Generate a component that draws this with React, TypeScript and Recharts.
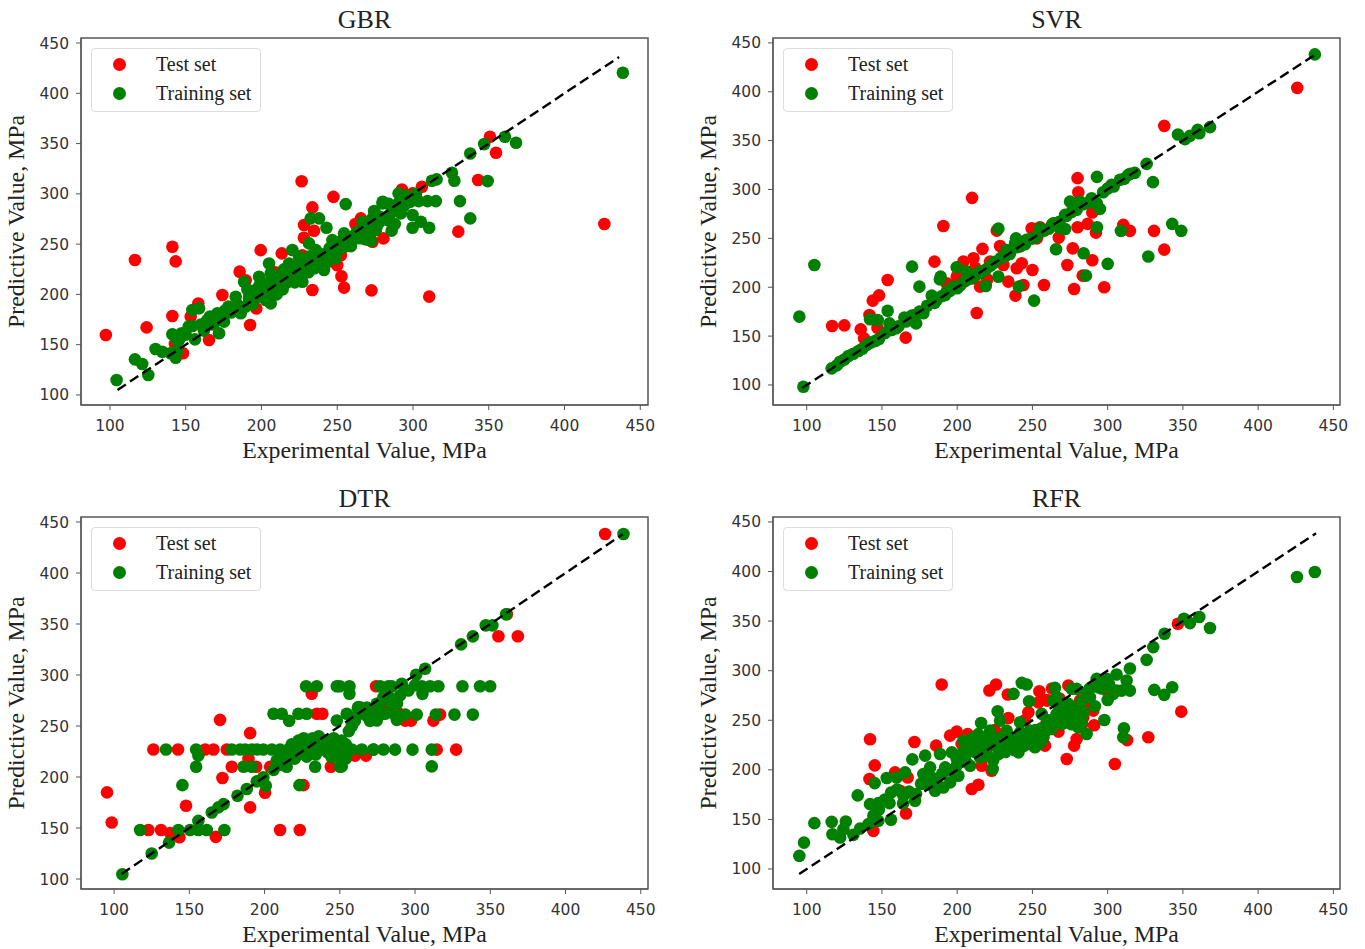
import React from 'react';
import {
  ScatterChart, Scatter, XAxis, YAxis, ReferenceArea
} from 'recharts';

type Pt = [number, number];

const xTicks = [100, 150, 200, 250, 300, 350, 400, 450];
const yTicks = [100, 150, 200, 250, 300, 350, 400, 450];

// GBR
const gbrTest: Pt[] = [
  [97.3, 159.6], [116.5, 234.2], [124.2, 167.2], [141.2, 247.4], [143.4, 232.8], [141.2, 178.5], [142.9, 150.7], [148.2, 141.4],
  [158.3, 191], [153.3, 178], [165.4, 154.7], [174.2, 199.4], [185.6, 222.6], [189.6, 214], [185, 188], [192.5, 169.6],
  [196.6, 186], [199.5, 244], [213.4, 240.8], [227, 239], [233.6, 204.3], [233.6, 286.5], [228.1, 269], [234.7, 263.3],
  [228, 256.4], [247.5, 297], [250, 229], [252.4, 239], [252.8, 218], [254.5, 206.7], [272.6, 204], [265.6, 275.6],
  [262, 270], [280.5, 255.7], [273.3, 252.4], [426.3, 270], [329.9, 262.4], [343, 313.7], [354.8, 340.9], [350.8, 356.8],
  [310.7, 197.8], [305.9, 307], [299.7, 300.5], [292.7, 304.4], [226.5, 312.5], [256, 248], [246, 233], [218, 229], [209, 222]
];
const gbrTrain: Pt[] = [
  [104.4, 114.9], [116.5, 135.4], [121.3, 130.8], [125.3, 119.9], [130.1, 145.7], [134.5, 143], [140, 141.4], [143.4, 137],
  [144.5, 144], [145.6, 154.7], [141.2, 160.3], [147.3, 161.3], [144, 155], [154.4, 168.6], [156.1, 155.3], [154.4, 184.5],
  [158.8, 186.1], [164.3, 174.5], [170.9, 181.2], [167.5, 170], [175.3, 172.9], [172, 161.3], [178.1, 187.8], [183, 197.7],
  [188.5, 212.6], [190.7, 205], [186.3, 181.2], [189.6, 187.8], [191.8, 196], [198.4, 217.6], [197.3, 206], [205, 230.8],
  [202.8, 194.4], [206.1, 191.1], [208.3, 207.6], [213.8, 222.6], [218.2, 230.8], [220.4, 244.1], [224.8, 237.5], [211.6, 214.3],
  [206.1, 220.9], [200.6, 206], [216, 217.6], [220.4, 224.2], [227, 212.6], [231.4, 250.7], [235.8, 244.1], [232.5, 275.6],
  [238, 275.6], [242.9, 266.3], [255.6, 289.8], [241.3, 224.2], [244.6, 237.5], [240.2, 234.2], [246.8, 254], [250.1, 244.1],
  [254.5, 260.7], [260, 255.7], [266.6, 255.7], [272.2, 253.4], [266.7, 272.3], [274.4, 282.2], [279.9, 290.5], [275.5, 267.3],
  [283.2, 274], [268.9, 254.7], [275.5, 264], [285.9, 263.4], [299.7, 266.3], [310.7, 266.3], [305.2, 272.3], [299.7, 279],
  [292, 280.6], [303.7, 292.8], [309.6, 292.8], [315.1, 292.8], [331, 292.8], [337.8, 275.6], [327.3, 313], [325.7, 321],
  [312.5, 313], [315.6, 314.4], [337.8, 340.2], [347, 349.5], [360.7, 356.8], [368, 350.8], [349.3, 312.7], [438.5, 420.4],
  [290.5, 300.5], [280, 292.2], [284, 290], [274.4, 283], [286.5, 283], [278.5, 277], [296, 298], [214, 205], [222, 212],
  [228, 222], [236, 228], [210, 200], [204, 200], [226, 231], [232, 238], [248, 250], [258, 257], [263, 262], [270, 270],
  [199, 210], [203, 208], [205, 212], [207, 200], [209, 215], [211, 204], [213, 208], [215, 225], [217, 212], [219, 222],
  [221, 216], [223, 226], [225, 218], [229, 226], [231, 222], [233, 232], [235, 226], [237, 236], [239, 230], [241, 240],
  [243, 232], [245, 246], [247, 240], [249, 236], [251, 252], [253, 246], [256, 254], [259, 248], [261, 258], [264, 256],
  [268, 265], [271, 258], [273, 275], [277, 270], [281, 276], [285, 280], [288, 270], [291, 292], [294, 288], [298, 292],
  [302, 300], [150, 160], [152, 168], [160, 170], [162, 164], [166, 178], [169, 172], [174, 180], [176, 184], [180, 182],
  [184, 190], [192, 200], [194, 190], [196, 196]
];
// SVR
const svrTest: Pt[] = [
  [116.9, 160.3], [125, 161], [135.9, 156.9], [138.1, 147.7], [141.7, 171.6], [147, 158.6], [143.9, 186.3], [148.1, 191.7],
  [153.8, 207.4], [165.8, 148.4], [184.9, 226.2], [190.8, 262.7], [209.9, 291.4], [213, 173.6], [193, 204], [199.7, 210.8],
  [204.1, 226.2], [210.8, 229.6], [216.8, 239.2], [215.2, 200.6], [221.8, 226.2], [228.5, 242.2], [226.3, 257.9], [230.7, 222.8],
  [239.6, 219.4], [242.9, 224.5], [234, 205.7], [238.7, 191.4], [244, 202.3], [250, 217.7], [257.7, 202.3], [249.5, 260.3],
  [255, 261.3], [252.9, 250], [267.5, 250.8], [276.8, 239.8], [273.2, 222.8], [277.7, 198.2], [280, 311.6], [280.5, 297.2],
  [289.8, 276.4], [286.7, 264.8], [280, 261.4], [292.2, 255.9], [310.4, 263.8], [314.8, 257.7], [330.8, 257.7], [337.6, 238.5],
  [289.8, 227.6], [283.4, 211.9], [297.7, 200], [337.6, 365.1], [426, 404], [206, 214], [212, 220], [220, 208]
];
const svrTrain: Pt[] = [
  [97.8, 98.2], [95.1, 169.9], [105.1, 222.8], [116.6, 117], [122.2, 123.8], [127.7, 129.6], [134.4, 134.8], [142.6, 143.3],
  [145.4, 145], [142.1, 167.2], [147.2, 166.5], [153.8, 176], [155, 163], [156.5, 156.2], [159.4, 158], [164.9, 168.9],
  [172, 171.6], [172.7, 163], [177.5, 173.3], [174.9, 200.6], [170, 221.1], [183.1, 191.4], [186.4, 187], [189, 210.8],
  [188.5, 208], [193, 195.5], [197.5, 200.6], [199.7, 220.4], [206.3, 216], [209.7, 212.6], [215.2, 214.3], [219, 201.3],
  [224, 224.5], [227.4, 210.8], [227.4, 260], [232.9, 238.1], [238.5, 245], [239.1, 250], [240.9, 200.6], [251.1, 186.3],
  [246, 248.4], [255, 260.3], [265, 265.4], [271.7, 259.6], [265.7, 238.8], [271.7, 274], [275, 287.6], [280.5, 286],
  [263.9, 265.5], [268.3, 260.4], [272.7, 273], [279.4, 279.2], [281.6, 287.7], [289.3, 291.1], [292.7, 286], [294.9, 280.2],
  [292.9, 312.9], [292.9, 261.4], [284, 234.8], [285.6, 211.9], [300, 223.9], [308.8, 257.7], [297, 297.2], [302.6, 304.7],
  [308.2, 309.9], [313.7, 315], [330.1, 307.5], [325.9, 326.2], [342.9, 264.8], [348.9, 257.7], [327, 231.4], [346.7, 356.3],
  [351.4, 351.5], [354.7, 354.9], [360.9, 357.6], [359.8, 361], [368, 363.8], [437.7, 438.2], [192, 192], [202, 202],
  [212, 212], [222, 222], [232, 232], [242, 242], [250, 250], [258, 258],
  [120, 120], [125, 126], [131, 132], [137, 137], [140, 141], [148, 147], [152, 153], [161, 160], [166, 165], [170, 171],
  [175, 175], [180, 181], [185, 184], [190, 191], [195, 196], [200, 199], [205, 206], [207, 208], [210, 209], [215, 216],
  [219, 218], [225, 226], [229, 230], [235, 234], [240, 241], [245, 244], [248, 249], [252, 251], [256, 257], [261, 260],
  [263, 264], [268, 267], [276, 277], [284, 285], [288, 287], [300, 301], [304, 303], [311, 311], [315, 316], [318, 317]
];
// DTR
const dtrTest: Pt[] = [
  [95.3, 184.9], [98.4, 155.4], [122.8, 148], [131.2, 148], [137.2, 145], [143.4, 141], [167.6, 141.3], [147.8, 171.8],
  [126.1, 227], [142.5, 227], [160.5, 227], [166, 227], [174.9, 227], [170.4, 256], [190.4, 243], [172, 199], [178.2, 210],
  [189.3, 217.7], [194.4, 210], [200.3, 184.6], [190.4, 170.2], [210.3, 148], [223.4, 148], [225.8, 192], [203.7, 210],
  [231.3, 281.6], [234.7, 262], [238.4, 262], [244, 210], [260.1, 221], [267.4, 221], [274.1, 289], [426.3, 438.2], [361, 359.6],
  [355.4, 338], [368.3, 338], [281.2, 273.3], [289.6, 261.9], [293.4, 255.3], [297.4, 255.3], [312.2, 255.3], [316.6, 261.2],
  [327.3, 226.8], [314.4, 226.8]
];
const dtrTrain: Pt[] = [
  [105.5, 104.6], [125, 125], [136.5, 135.7], [117.3, 148], [142.7, 148], [150.5, 148], [156, 157], [156, 148], [161.6, 148],
  [173.3, 148], [164.9, 165.2], [169.3, 170.2], [172.7, 173.4], [182, 181.6], [188.2, 188.2], [194.8, 195.7], [199.2, 199.7],
  [200.8, 191.5], [145.4, 192], [223.2, 192], [154.5, 210], [156, 221], [154.5, 227], [134.5, 227], [178.2, 227], [183.7, 227],
  [191.5, 227], [199.2, 227], [204.8, 227], [210.3, 227], [215.8, 227], [221.4, 227], [226.9, 227], [232.5, 227], [239.1, 227],
  [244.6, 227], [251.3, 227], [258, 227], [264.6, 227], [272.3, 227], [279, 227], [186, 210], [191.5, 210], [208, 216],
  [214.7, 210], [217, 219], [222.5, 235.7], [233.6, 210], [250.2, 210], [244.6, 219.3], [251.3, 235.7], [236.9, 235.7],
  [205.9, 262], [211.4, 262], [216.3, 255], [222.5, 262], [228, 262], [227.6, 289], [234.7, 289], [248, 289], [256.4, 289],
  [256.4, 281.6], [248, 255.4], [254.6, 262], [262.4, 268.5], [268, 260], [274.5, 255.4], [280, 262], [276.8, 289], [282.3, 289],
  [274.5, 271.8], [279, 278.3], [284.5, 289], [291.2, 291.4], [295.6, 284.8], [304.5, 289], [310, 289], [315.5, 289], [304.9, 281.5],
  [331.5, 289], [343.2, 289], [349.9, 289], [300.7, 300.2], [306.7, 306.1], [330.6, 330], [338.4, 337.9], [347, 348.7],
  [351.4, 348.7], [360.5, 359.6], [438.5, 438.2], [287.9, 256], [293.4, 261.2], [301.1, 261.2], [313.8, 261.2], [326.2, 261.2],
  [338.4, 261.2], [272.4, 226.8], [286.7, 226.8], [298.3, 226.8], [311.1, 226.8], [311.1, 210.4], [251.3, 210.4], [228, 230],
  [240, 232], [246, 222], [222, 222], [218, 232], [232, 238], [254, 232],
  [210, 219], [212, 214], [214, 222], [218, 226], [220, 218], [224, 232], [226, 238], [228, 220], [230, 226], [232, 232],
  [234, 222], [236, 240], [238, 230], [240, 236], [242, 224], [244, 230], [246, 238], [248, 226], [250, 220], [252, 226],
  [254, 218], [256, 245], [258, 250], [260, 255], [262, 262], [264, 268], [266, 262], [270, 255], [272, 262], [276, 272],
  [278, 262], [282, 280], [284, 272], [286, 262], [288, 272], [290, 280], [206, 207], [210, 212], [214, 217], [216, 220],
  [220, 224], [187, 227], [195, 227], [262, 268], [268, 268], [250, 289], [300, 290]
];
// RFR
const rfrTest: Pt[] = [
  [189.7, 286], [142.1, 230.8], [145.2, 204.5], [141.7, 190.7], [158.7, 197.4], [167.1, 192.3], [162, 178.9], [166, 156],
  [144.3, 138.4], [171.6, 228], [186, 224.4], [195.3, 234.5], [199.7, 238.5], [213.4, 231.1], [209.7, 180.6], [214.1, 184.9],
  [216.3, 204.1], [222.9, 199.1], [221.4, 280], [225.8, 286], [233.6, 276], [254.6, 279.3], [259.5, 270.5], [247.3, 258],
  [234, 252.3], [259.5, 248], [258.4, 224.4], [267.3, 238.5], [267.3, 258], [273.9, 285], [272.8, 210.9], [277.7, 224.4],
  [279.4, 231.1], [346.7, 347.3], [348.9, 258.7], [327, 232.8], [313, 230], [304.8, 205.8], [259.9, 269.8], [283.8, 253],
  [290.4, 259.7], [300.4, 278.3], [281.6, 269.8], [203, 226], [207, 236], [215, 222], [225, 240], [245, 250], [254, 268],
  [263, 282], [286, 266], [283, 246], [291, 245], [273, 262], [268, 272]
];
const rfrTrain: Pt[] = [
  [95.1, 113.2], [98.2, 126.6], [105.1, 146.2], [116.6, 147.5], [117.1, 135], [122.2, 131.7], [126, 147.9], [124.4, 140.1],
  [131, 134.4], [135.5, 140.8], [133.9, 174.2], [141, 145.2], [147.6, 148.5], [156, 149.6], [144.3, 153.6], [142.1, 165.4],
  [147.6, 166.4], [155, 166.4], [156.1, 177.2], [145.2, 186.6], [153.2, 191.7], [159.8, 192.3], [165.4, 197.4], [164.3, 173.8],
  [172, 168.8], [172.7, 175.5], [170.2, 210.5], [178.7, 214.3], [177.5, 195.7], [183, 192.3], [185.3, 178.9], [190.8, 182.2],
  [195.3, 187.3], [200.8, 194], [182, 202.5], [188.6, 216], [192, 202.5], [196.4, 217.6], [199.7, 210.9], [204.1, 229.4],
  [207.4, 226], [210.8, 221], [203, 214.3], [208.6, 204.1], [215.2, 212.6], [215.9, 247.3], [221.8, 239.5], [219.6, 221],
  [227.4, 216], [223.6, 200.8], [226.9, 259.1], [228.5, 249.6], [232.9, 239.5], [234, 221], [240.7, 217.6], [237.4, 276.6],
  [242.9, 287.7], [246.2, 286], [247.8, 269.2], [241.8, 248], [248.4, 239.5], [251.7, 222.7], [256.2, 256.4], [257.3, 232.8],
  [262.8, 241.2], [269.5, 246.3], [272.8, 256.4], [265, 282.7], [266.1, 273.2], [276.1, 281.7], [273.9, 266.5], [278.3, 254.7],
  [280.5, 242.9], [263.9, 269.8], [261.6, 241.2], [256.1, 229.4], [270.5, 246.9], [282.7, 247.9], [286, 236.1], [279.4, 281.6],
  [272.7, 266.5], [286, 276.6], [292.7, 291.7], [288.2, 273.2], [291.5, 264.1], [293.8, 283.3], [299.3, 291.7], [305.9, 296.1],
  [312.6, 290.1], [314.8, 279.9], [309.3, 279.9], [303.7, 276.6], [300, 270.5], [314.8, 302.2], [297.8, 250.3], [310.8, 241.9],
  [310.4, 232.8], [325.9, 310.9], [330.3, 323.8], [337.8, 337.2], [331, 280.6], [337.6, 275.6], [342.9, 283.3], [350.7, 352.4],
  [354.7, 348], [360.9, 354.1], [368, 343], [425.8, 394.5], [437.7, 399.6], [200, 205], [206, 216], [212, 228], [218, 218],
  [224, 228], [238, 232], [244, 226], [252, 240], [260, 250],
  [186, 190], [190, 196], [194, 200], [198, 198], [202, 208], [204, 218], [206, 208], [208, 222], [210, 232], [212, 218],
  [214, 236], [216, 226], [218, 232], [220, 214], [222, 226], [224, 210], [226, 224], [228, 232], [230, 226], [232, 218],
  [234, 232], [236, 226], [238, 220], [240, 232], [242, 238], [244, 224], [246, 232], [248, 226], [250, 236], [252, 232],
  [254, 226], [256, 242], [258, 238], [262, 250], [266, 256], [268, 262], [270, 256], [274, 258], [276, 246], [278, 262],
  [282, 268], [284, 258], [288, 282], [296, 282], [301, 286], [306, 280], [164, 166], [168, 178], [176, 186], [180, 185],
  [160, 180], [148, 160], [152, 170]
];

const xLabel = 'Experimental Value, MPa';
const yLabel = 'Predictive Value, MPa';

const toRows = (pts: Pt[]) => pts.map(([x, y]) => ({ x, y }));

const dot = (fill: string) => (p: any) => <circle cx={p.cx} cy={p.cy} r={6.3} fill={fill} />;
const noDot = () => <g />;

interface PanelProps {
  title: string;
  left: number;
  top: number;
  plotH: number;
  xDomain: [number, number];
  yDomain: [number, number];
  test: Pt[];
  train: Pt[];
  ends: [number, number];
}

const W = 683;
const PLOT_W = 567;
const AXIS_W = 50;
const AXIS_H = 30;
const PAD = 14; // room above the plot so the 450 tick label is not clipped

const Panel: React.FC<PanelProps> = ({ title, left, top, plotH, xDomain, yDomain, test, train, ends }) => {
  const H = plotH + 60 + PAD;
  return (
    <div style={{ position: 'absolute', left, top: top - PAD, width: W, height: H }}>
      <ScatterChart
        width={W}
        height={H}
        margin={{ left: 81 - AXIS_W, top: PAD, right: W - 81 - PLOT_W, bottom: 60 - AXIS_H }}
      >
        <XAxis
          type="number"
          dataKey="x"
          domain={xDomain}
          ticks={xTicks}
          interval={0}
          allowDataOverflow
          height={AXIS_H}
          tickSize={5}
          tickMargin={10}
          stroke="#555"
          tick={{ fontSize: 15.5, fontFamily: 'DejaVu Sans', fill: '#333' }}
          label={{ value: xLabel, position: 'insideBottom', offset: -23, style: { fontSize: 23.8, fontFamily: 'Liberation Serif', fill: '#222' } }}
        />
        <YAxis
          type="number"
          dataKey="y"
          domain={yDomain}
          ticks={yTicks}
          interval={0}
          allowDataOverflow
          width={AXIS_W}
          tickSize={5}
          tickMargin={7}
          stroke="#555"
          tick={{ fontSize: 15.5, fontFamily: 'DejaVu Sans', fill: '#333' }}
          label={{ value: yLabel, angle: -90, position: 'insideLeft', offset: -15, style: { fontSize: 23.8, fontFamily: 'Liberation Serif', fill: '#222', textAnchor: 'middle' } }}
        />
        <ReferenceArea x1={xDomain[0]} x2={xDomain[1]} y1={yDomain[0]} y2={yDomain[1]} fill="none" stroke="#555" strokeWidth={1.5} />
        <Scatter data={toRows(test)} fill="#ff0000" shape={dot('#ff0000')} isAnimationActive={false} />
        <Scatter data={toRows(train)} fill="#008000" shape={dot('#008000')} isAnimationActive={false} />
        {/* dashed x=y line, a series so it sits over the dots */}
        <Scatter
          data={toRows([[ends[0], ends[0]], [ends[1], ends[1]]])}
          line={{ stroke: '#000', strokeWidth: 2.4, strokeDasharray: '10 5' }}
          shape={noDot}
          isAnimationActive={false}
        />
      </ScatterChart>
      <div style={{ position: 'absolute', left: 0, width: 729, top: PAD - 33, textAlign: 'center', fontFamily: 'Liberation Serif', fontSize: 26, color: '#222' }}>
        {title}
      </div>
      <div style={{
        position: 'absolute', left: 91, top: PAD + 10, width: 170, height: 64, boxSizing: 'border-box',
        border: '1.5px solid #ddd', borderRadius: 4, background: '#fff',
        fontFamily: 'Liberation Serif', fontSize: 20, color: '#222'
      }}>
        <span style={{ position: 'absolute', left: 21, top: 9, width: 13, height: 13, borderRadius: '50%', background: '#ff0000' }} />
        <span style={{ position: 'absolute', left: 64, top: 4 }}>Test set</span>
        <span style={{ position: 'absolute', left: 21, top: 38, width: 13, height: 13, borderRadius: '50%', background: '#008000' }} />
        <span style={{ position: 'absolute', left: 64, top: 33 }}>Training set</span>
      </div>
    </div>
  );
};

export default function App() {
  return (
    <div style={{ position: 'absolute', left: 0, top: 0, width: 1365, height: 949, background: '#fff', overflow: 'hidden' }}>
      <Panel title="GBR" left={0} top={38} plotH={367} xDomain={[80.9, 455.1]} yDomain={[90, 455]} test={gbrTest} train={gbrTrain} ends={[105, 436]} />
      <Panel title="SVR" left={692} top={38} plotH={367} xDomain={[77.6, 454.4]} yDomain={[79.5, 455]} test={svrTest} train={svrTrain} ends={[97, 438]} />
      <Panel title="DTR" left={0} top={517} plotH={372} xDomain={[78, 454.8]} yDomain={[90.2, 454.9]} test={dtrTest} train={dtrTrain} ends={[105, 438]} />
      <Panel title="RFR" left={692} top={517} plotH={372} xDomain={[77.6, 454.4]} yDomain={[79.8, 455]} test={rfrTest} train={rfrTrain} ends={[95, 438.5]} />
    </div>
  );
}
